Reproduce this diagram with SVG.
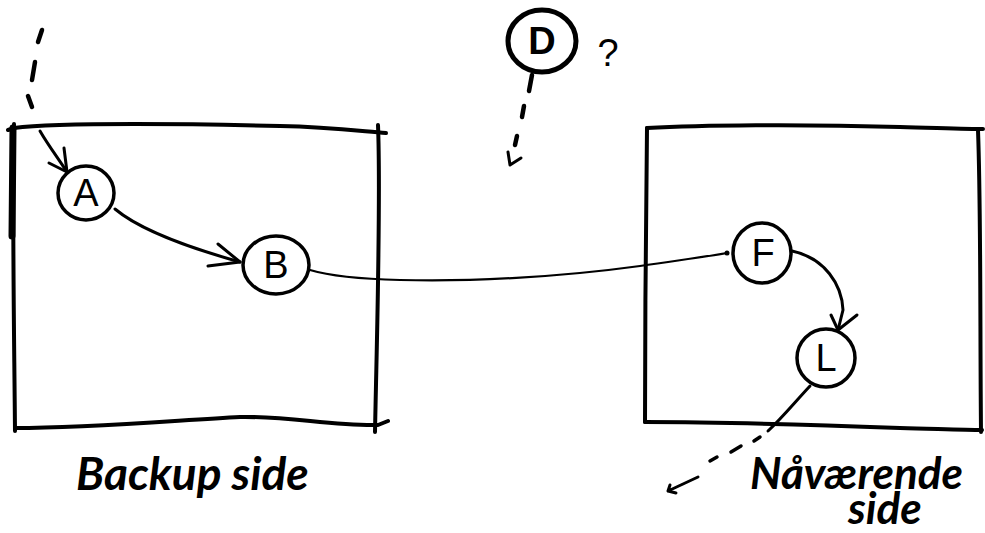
<svg xmlns="http://www.w3.org/2000/svg" width="985" height="533" viewBox="0 0 985 533">
  <defs>
    <style>
      .frame { fill: none; stroke: #000; stroke-width: 4; stroke-linecap: round; stroke-linejoin: round; }
      .ring { fill: #fff; stroke: #000; stroke-width: 3.5; }
      .letter { font-family: "Liberation Sans", "DejaVu Sans", sans-serif; font-size: 38px; text-anchor: middle; fill: #000; }
      .wire { fill: none; stroke: #000; stroke-width: 3; stroke-linecap: round; stroke-linejoin: round; }
      .thin { fill: none; stroke: #000; stroke-width: 2.2; stroke-linecap: round; }
      .dash { fill: none; stroke: #000; stroke-width: 4.5; stroke-linecap: round; }
      .caption { font-family: "Lato", "Liberation Sans", sans-serif; font-style: italic; font-weight: bold; font-size: 44px; fill: #000; }
    </style>
  </defs>

  <!-- left box: backup side -->
  <g id="backup-box">
    <path class="frame" d="M14,124 C12,200 14,320 15,431"/>
    <path class="frame" d="M14,128 L8,130 M14,128 C60,122 200,124 280,126 C330,127 360,131 386,133"/>
    <path class="frame" d="M378,125 C381,200 377,330 375,432"/>
    <path class="frame" d="M15,428 C90,428 180,420 240,417 C290,416 330,426 378,425 L388,421"/>
    <path class="frame" style="stroke-width:7" d="M13,128 L12,236"/>
    <text class="caption" x="76" y="490" style="font-size:46px">Backup side</text>
  </g>

  <!-- right box: current side -->
  <g id="current-box">
    <path class="frame" d="M647,128 C700,125 800,124 900,127 C940,128 970,129 983,129"/>
    <path class="frame" d="M647,128 C646,200 645,330 645,422"/>
    <path class="frame" d="M978,130 C981,210 980,330 981,432"/>
    <path class="frame" d="M645,422 C720,422 820,425 900,428 C940,429 965,430 982,430"/>
    <text class="caption" x="750" y="489">Nåværende</text>
    <text class="caption" x="848" y="524">side</text>
  </g>

  <!-- nodes -->
  <g id="node-a">
    <ellipse class="ring" cx="86" cy="193" rx="28" ry="27"/>
    <text class="letter" x="86" y="206">A</text>
  </g>
  <g id="node-b">
    <ellipse class="ring" cx="276" cy="265" rx="33" ry="29"/>
    <text class="letter" x="276" y="278">B</text>
  </g>
  <g id="node-d">
    <ellipse class="ring" cx="542" cy="41" rx="34" ry="31" style="stroke-width:5"/>
    <text class="letter" x="542" y="54" style="font-weight:bold">D</text>
    <text class="letter" x="608" y="66" style="font-size:38px">?</text>
  </g>
  <g id="node-f">
    <ellipse class="ring" cx="762" cy="253" rx="29" ry="30"/>
    <text class="letter" x="763" y="266">F</text>
  </g>
  <g id="node-l">
    <ellipse class="ring" cx="826" cy="358" rx="29" ry="29"/>
    <text class="letter" x="826" y="371">L</text>
  </g>

  <!-- connectors -->
  <g id="connectors">
    <!-- incoming dashed line into A -->
    <path class="dash" d="M42,30 L38,42 M35,62 L32,80 M28,96 L32,107"/>
    <path class="wire" d="M40,131 C48,145 58,158 67,172"/>
    <path class="wire" d="M49,163 L67,172 L64,148"/>

    <!-- A to B -->
    <path class="wire" d="M115,209 C140,230 190,248 240,262"/>
    <path class="wire" d="M208,266 L240,262 L218,244"/>

    <!-- B to F -->
    <path class="thin" d="M310,270 C330,276 360,279 400,280 C470,282 560,277 640,266 C680,260 705,257 727,253"/>
    <circle cx="727" cy="253" r="2.5" fill="#000"/>

    <!-- F to L -->
    <path class="wire" d="M792,251 C825,258 842,285 843,310 L838,330"/>
    <path class="wire" d="M831,315 L838,330 L857,315"/>

    <!-- L leaving the box, dashed -->
    <path class="wire" d="M810,386 C795,402 782,418 768,431"/>
    <path class="dash" style="stroke-width:3.5" d="M760,437 L754,441 M741,446 L731,452 M717,457 L710,461"/>
    <path class="wire" d="M698,477 L668,491 M670,485 L668,491 L676,493"/>

    <!-- dashed line below D -->
    <path class="dash" d="M532,75 L529,91 M524,106 L522,117 M517,136 L515,145"/>
    <path class="wire" d="M508,152 L510,165 L521,158"/>
  </g>
</svg>
